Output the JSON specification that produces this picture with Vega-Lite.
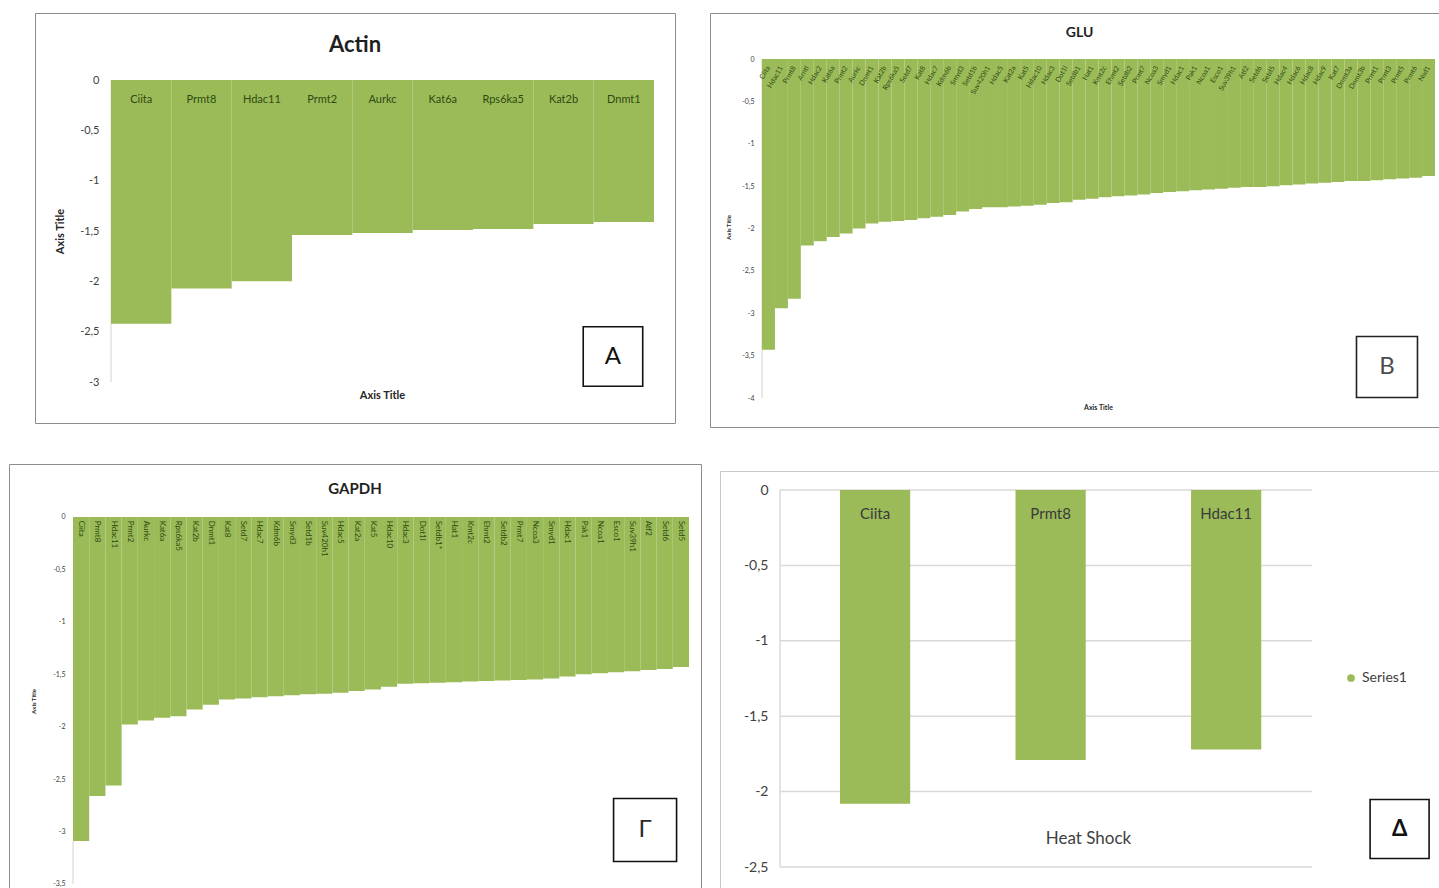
{
  "$schema": "https://vega.github.io/schema/vega-lite/v6.json",
  "background": "white",
  "padding": {"left": 8, "top": 12, "right": 0, "bottom": 0},
  "spacing": 7,
  "config": {"font": "Lato", "view": {"stroke": "#8c8c8c"}},
  "datasets": {
    "actin": [
      {"gene": "Ciita", "value": -2.42}, {"gene": "Prmt8", "value": -2.07}, {"gene": "Hdac11", "value": -2.0},
      {"gene": "Prmt2", "value": -1.54}, {"gene": "Aurkc", "value": -1.52}, {"gene": "Kat6a", "value": -1.49},
      {"gene": "Rps6ka5", "value": -1.48}, {"gene": "Kat2b", "value": -1.43}, {"gene": "Dnmt1", "value": -1.41}
    ],
    "glu": [
      {"gene": "Ciita", "value": -3.43}, {"gene": "Hdac11", "value": -2.94}, {"gene": "Prmt8", "value": -2.83},
      {"gene": "Arntl", "value": -2.2}, {"gene": "Hdac2", "value": -2.15}, {"gene": "Kat6a", "value": -2.1},
      {"gene": "Prmt2", "value": -2.06}, {"gene": "Aurkc", "value": -2.0}, {"gene": "Dnmt1", "value": -1.94},
      {"gene": "Kat2b", "value": -1.92}, {"gene": "Rps6ka5", "value": -1.91}, {"gene": "Setd7", "value": -1.9},
      {"gene": "Kat8", "value": -1.88}, {"gene": "Hdac7", "value": -1.86}, {"gene": "Kdm6b", "value": -1.84},
      {"gene": "Smyd3", "value": -1.8}, {"gene": "Setd1b", "value": -1.77}, {"gene": "Suv420h1", "value": -1.75},
      {"gene": "Hdac5", "value": -1.75}, {"gene": "Kat2a", "value": -1.74}, {"gene": "Kat5", "value": -1.73},
      {"gene": "Hdac10", "value": -1.72}, {"gene": "Hdac3", "value": -1.7}, {"gene": "Dot1l", "value": -1.69},
      {"gene": "Setdb1", "value": -1.66}, {"gene": "Hat1", "value": -1.65}, {"gene": "Kmt2c", "value": -1.63},
      {"gene": "Ehmt2", "value": -1.62}, {"gene": "Setdb2", "value": -1.61}, {"gene": "Prmt7", "value": -1.6},
      {"gene": "Ncoa3", "value": -1.58}, {"gene": "Smyd1", "value": -1.57}, {"gene": "Hdac1", "value": -1.56},
      {"gene": "Pak1", "value": -1.55}, {"gene": "Ncoa1", "value": -1.54}, {"gene": "Esco1", "value": -1.53},
      {"gene": "Suv39h1", "value": -1.52}, {"gene": "Atf2", "value": -1.51}, {"gene": "Setd6", "value": -1.51},
      {"gene": "Setd5", "value": -1.5}, {"gene": "Hdac4", "value": -1.49}, {"gene": "Hdac6", "value": -1.48},
      {"gene": "Hdac8", "value": -1.47}, {"gene": "Hdac9", "value": -1.46}, {"gene": "Kat7", "value": -1.45},
      {"gene": "Dnmt3a", "value": -1.44}, {"gene": "Dnmt3b", "value": -1.44}, {"gene": "Prmt1", "value": -1.43},
      {"gene": "Prmt3", "value": -1.42}, {"gene": "Prmt5", "value": -1.41}, {"gene": "Prmt6", "value": -1.4},
      {"gene": "Nsd1", "value": -1.38}
    ],
    "gapdh": [
      {"gene": "Ciita", "value": -3.09}, {"gene": "Prmt8", "value": -2.66}, {"gene": "Hdac11", "value": -2.56},
      {"gene": "Prmt2", "value": -1.98}, {"gene": "Aurkc", "value": -1.94}, {"gene": "Kat6a", "value": -1.915},
      {"gene": "Rps6ka5", "value": -1.9}, {"gene": "Kat2b", "value": -1.835}, {"gene": "Dnmt1", "value": -1.79},
      {"gene": "Kat8", "value": -1.74}, {"gene": "Setd7", "value": -1.73}, {"gene": "Hdac7", "value": -1.72},
      {"gene": "Kdm6b", "value": -1.71}, {"gene": "Smyd3", "value": -1.7}, {"gene": "Setd1b", "value": -1.69},
      {"gene": "Suv420h1", "value": -1.685}, {"gene": "Hdac5", "value": -1.675}, {"gene": "Kat2a", "value": -1.66},
      {"gene": "Kat5", "value": -1.645}, {"gene": "Hdac10", "value": -1.62}, {"gene": "Hdac3", "value": -1.59},
      {"gene": "Dot1l", "value": -1.585}, {"gene": "Setdb1*", "value": -1.58}, {"gene": "Hat1", "value": -1.575},
      {"gene": "Kmt2c", "value": -1.57}, {"gene": "Ehmt2", "value": -1.565}, {"gene": "Setdb2", "value": -1.56},
      {"gene": "Prmt7", "value": -1.555}, {"gene": "Ncoa3", "value": -1.55}, {"gene": "Smyd1", "value": -1.54},
      {"gene": "Hdac1", "value": -1.52}, {"gene": "Pak1", "value": -1.5}, {"gene": "Ncoa1", "value": -1.49},
      {"gene": "Esco1", "value": -1.48}, {"gene": "Suv39h1", "value": -1.47}, {"gene": "Atf2", "value": -1.46},
      {"gene": "Setd6", "value": -1.45}, {"gene": "Setd5", "value": -1.43}
    ],
    "heat": [
      {"gene": "Ciita", "value": -2.08}, {"gene": "Prmt8", "value": -1.79}, {"gene": "Hdac11", "value": -1.72}
    ],
    "heatTicks": [
      {"tick": 0}, {"tick": -0.5}, {"tick": -1}, {"tick": -1.5}, {"tick": -2}, {"tick": -2.5}
    ]
  },
  "hconcat": [
    {
      "spacing": 41,
      "center": true,
      "bounds": "flush",
      "vconcat": [
        {
          "width": 640,
          "height": 410,
          "view": {"stroke": "#8c8c8c", "strokeWidth": 1},
          "title": {"text": "Actin", "fontSize": 22, "fontWeight": "bold", "color": "#1f1f1f", "offset": -54, "baseline": "middle", "anchor": "middle", "frame": "group"},
          "data": {"name": "actin"},
          "layer": [
            {
              "transform": [{"filter": "datum.gene === 'Ciita'"}],
              "mark": {"type": "rule", "color": "#d4d4d4", "strokeWidth": 1},
              "encoding": {
                "x": {"field": "gene", "type": "nominal", "sort": null, "bandPosition": 0},
                "y": {"datum": -3, "type": "quantitative"},
                "y2": {"datum": 0}
              }
            },
            {
              "mark": {"type": "bar", "color": "#9bbb59"},
              "encoding": {
                "x": {"field": "gene", "type": "nominal", "sort": null,
                  "scale": {"paddingInner": 0, "paddingOuter": 0.804, "align": 0.7835},
                  "axis": {"orient": "bottom", "labels": false, "ticks": false, "domain": false, "offset": -36,
                    "title": "Axis Title", "titleFontSize": 11, "titleFontWeight": "bold", "titleColor": "#262626", "titlePadding": 2, "titleX": 347}},
                "y": {"field": "value", "type": "quantitative",
                  "scale": {"domain": [-3.407, 0.666], "nice": false, "zero": false},
                  "axis": {"orient": "left", "offset": -76, "values": [-3, -2.5, -2, -1.5, -1, -0.5, 0],
                    "labelExpr": "replace(toString(datum.value), '.', ',')",
                    "domain": false, "ticks": false, "grid": false, "labelPadding": 12, "labelFontSize": 11, "labelColor": "#404040",
                    "title": "Axis Title", "titleFontSize": 11, "titleFontWeight": "bold", "titleColor": "#262626", "titlePadding": 14, "titleY": 218}},
                "y2": {"datum": 0}
              }
            },
            {
              "mark": {"type": "text", "color": "#2f4a10", "fontSize": 11, "dy": 20, "baseline": "middle"},
              "encoding": {
                "x": {"field": "gene", "type": "nominal", "sort": null},
                "y": {"datum": 0, "type": "quantitative"},
                "text": {"field": "gene"}
              }
            },
            {
              "transform": [{"filter": "datum.gene === 'Dnmt1'"}],
              "mark": {"type": "point", "shape": "square", "size": 3540, "filled": true, "fill": "white", "stroke": "#111111", "strokeWidth": 1.6, "opacity": 1},
              "encoding": {
                "x": {"field": "gene", "type": "nominal", "sort": null, "bandPosition": 0.32},
                "y": {"datum": -2.747, "type": "quantitative"}
              }
            },
            {
              "transform": [{"filter": "datum.gene === 'Dnmt1'"}],
              "mark": {"type": "text", "text": "A", "fontSize": 24, "color": "#111111", "baseline": "middle"},
              "encoding": {
                "x": {"field": "gene", "type": "nominal", "sort": null, "bandPosition": 0.32},
                "y": {"datum": -2.747, "type": "quantitative"}
              }
            }
          ]
        },
        {
          "width": 692,
          "height": 430,
          "view": {"stroke": "#8c8c8c", "strokeWidth": 1},
          "title": {"text": "GAPDH", "fontSize": 15, "fontWeight": "bold", "color": "#1f1f1f", "offset": -40, "baseline": "middle", "anchor": "middle", "frame": "group"},
          "data": {"name": "gapdh"},
          "layer": [
            {
              "mark": {"type": "bar", "color": "#9bbb59"},
              "encoding": {
                "x": {"field": "gene", "type": "nominal", "sort": null,
                  "scale": {"paddingInner": 0, "paddingOuter": 0, "range": [64, 680]},
                  "axis": null},
                "y": {"field": "value", "type": "quantitative",
                  "scale": {"domain": [-3.5954, 0.5054], "nice": false, "zero": false},
                  "axis": {"orient": "left", "offset": -64, "values": [-3.5, -3, -2.5, -2, -1.5, -1, -0.5, 0],
                    "labelExpr": "replace(toString(datum.value), '.', ',')",
                    "domain": false, "ticks": false, "grid": false, "labelPadding": 8, "labelFontSize": 7, "labelColor": "#404040",
                    "title": "Axis Title", "titleFontSize": 6, "titleFontWeight": "bold", "titleColor": "#262626", "titlePadding": 16, "titleY": 237}},
                "y2": {"datum": 0}
              }
            },
            {
              "transform": [{"filter": "datum.gene === 'Ciita'"}],
              "mark": {"type": "rule", "color": "#d4d4d4", "strokeWidth": 1},
              "encoding": {
                "x": {"field": "gene", "type": "nominal", "sort": null, "bandPosition": 0},
                "y": {"datum": -3.5, "type": "quantitative"},
                "y2": {"datum": -3.09}
              }
            },
            {
              "mark": {"type": "text", "color": "#2f4a10", "fontSize": 8, "angle": 90, "align": "left", "baseline": "middle"},
              "encoding": {
                "x": {"field": "gene", "type": "nominal", "sort": null},
                "y": {"datum": -0.035, "type": "quantitative"},
                "text": {"field": "gene"}
              }
            },
            {
              "transform": [{"filter": "datum.gene === 'Atf2'"}],
              "mark": {"type": "point", "shape": "square", "size": 3970, "filled": true, "fill": "white", "stroke": "#111111", "strokeWidth": 1.6, "opacity": 1},
              "encoding": {
                "x": {"field": "gene", "type": "nominal", "sort": null, "bandPosition": 0.29},
                "y": {"datum": -2.985, "type": "quantitative"}
              }
            },
            {
              "transform": [{"filter": "datum.gene === 'Atf2'"}],
              "mark": {"type": "text", "text": "Γ", "fontSize": 24, "color": "#2b2b2b", "baseline": "middle"},
              "encoding": {
                "x": {"field": "gene", "type": "nominal", "sort": null, "bandPosition": 0.29},
                "y": {"datum": -2.985, "type": "quantitative"}
              }
            }
          ]
        }
      ]
    },
    {
      "spacing": 44,
      "center": true,
      "bounds": "flush",
      "vconcat": [
        {
          "width": 739,
          "height": 414,
          "view": {"stroke": "#8c8c8c", "strokeWidth": 1},
          "title": {"text": "GLU", "fontSize": 14, "fontWeight": "bold", "color": "#1f1f1f", "offset": -34, "baseline": "middle", "anchor": "middle", "frame": "group"},
          "data": {"name": "glu"},
          "layer": [
            {
              "transform": [{"filter": "datum.gene === 'Ciita'"}],
              "mark": {"type": "rule", "color": "#d4d4d4", "strokeWidth": 1},
              "encoding": {
                "x": {"field": "gene", "type": "nominal", "sort": null, "bandPosition": 0},
                "y": {"datum": -4, "type": "quantitative"},
                "y2": {"datum": 0}
              }
            },
            {
              "mark": {"type": "bar", "color": "#9bbb59"},
              "encoding": {
                "x": {"field": "gene", "type": "nominal", "sort": null,
                  "scale": {"paddingInner": 0, "paddingOuter": 0, "range": [52, 725]},
                  "axis": {"orient": "bottom", "labels": false, "ticks": false, "domain": false, "offset": -24,
                    "title": "Axis Title", "titleFontSize": 7, "titleFontWeight": "bold", "titleColor": "#262626", "titlePadding": 0, "titleX": 388}},
                "y": {"field": "value", "type": "quantitative",
                  "scale": {"domain": [-4.342, 0.5428], "nice": false, "zero": false},
                  "axis": {"orient": "left", "offset": -52, "values": [-4, -3.5, -3, -2.5, -2, -1.5, -1, -0.5, 0],
                    "labelExpr": "replace(toString(datum.value), '.', ',')",
                    "domain": false, "ticks": false, "grid": false, "labelPadding": 8, "labelFontSize": 7, "labelColor": "#404040",
                    "title": "Axis Title", "titleFontSize": 6, "titleFontWeight": "bold", "titleColor": "#262626", "titlePadding": 10, "titleY": 214}},
                "y2": {"datum": 0}
              }
            },
            {
              "mark": {"type": "text", "color": "#2f4a10", "fontSize": 7, "angle": -60, "align": "right", "baseline": "middle"},
              "encoding": {
                "x": {"field": "gene", "type": "nominal", "sort": null},
                "y": {"datum": -0.09, "type": "quantitative"},
                "text": {"field": "gene"}
              }
            },
            {
              "transform": [{"filter": "datum.gene === 'Prmt3'"}],
              "mark": {"type": "point", "shape": "square", "size": 3720, "filled": true, "fill": "white", "stroke": "#222222", "strokeWidth": 1.6, "opacity": 1},
              "encoding": {
                "x": {"field": "gene", "type": "nominal", "sort": null, "bandPosition": 0.29},
                "y": {"datum": -3.634, "type": "quantitative"}
              }
            },
            {
              "transform": [{"filter": "datum.gene === 'Prmt3'"}],
              "mark": {"type": "text", "text": "B", "fontSize": 24, "color": "#4d4d4d", "baseline": "middle"},
              "encoding": {
                "x": {"field": "gene", "type": "nominal", "sort": null, "bandPosition": 0.29},
                "y": {"datum": -3.634, "type": "quantitative"}
              }
            }
          ]
        },
        {
          "width": 719,
          "height": 420,
          "view": {"stroke": "#c9c9c9", "strokeWidth": 1},
          "resolve": {"scale": {"x": "independent"}, "axis": {"x": "independent"}},
          "layer": [
            {
              "data": {"name": "heatTicks"},
              "layer": [
                {
                  "mark": {"type": "rule", "color": "#d9d9d9", "strokeWidth": 1.5},
                  "encoding": {
                    "x": {"datum": 0, "type": "quantitative", "scale": {"domain": [-0.1128, 1.2387], "nice": false, "zero": false}, "axis": null},
                    "x2": {"datum": 1},
                    "y": {"field": "tick", "type": "quantitative"}
                  }
                },
                {
                  "mark": {"type": "rule", "color": "#d9d9d9", "strokeWidth": 1.5},
                  "encoding": {
                    "x": {"datum": 0, "type": "quantitative", "axis": null},
                    "y": {"aggregate": "min", "field": "tick", "type": "quantitative"},
                    "y2": {"aggregate": "max", "field": "tick"}
                  }
                }
              ]
            },
            {
              "data": {"name": "heat"},
              "layer": [
                {
                  "mark": {"type": "bar", "color": "#9bbb59"},
                  "encoding": {
                    "x": {"field": "gene", "type": "nominal", "sort": null,
                      "scale": {"paddingInner": 0.6, "paddingOuter": 0.848, "align": 0.403},
                      "axis": {"orient": "bottom", "labels": false, "ticks": false, "domain": false, "offset": -61,
                        "title": "Heat Shock", "titleFontSize": 17, "titleFontWeight": "normal", "titleColor": "#404040", "titlePadding": 0, "titleX": 368}},
                    "y": {"field": "value", "type": "quantitative",
                      "scale": {"domain": [-2.659, 0.126], "nice": false, "zero": false},
                      "axis": {"orient": "left", "offset": -60, "values": [-2.5, -2, -1.5, -1, -0.5, 0],
                        "labelExpr": "replace(toString(datum.value), '.', ',')",
                        "domain": false, "ticks": false, "grid": false, "labelPadding": 12, "labelFontSize": 14, "labelColor": "#404040", "title": null}},
                    "y2": {"datum": 0},
                    "color": {"datum": "Series1", "type": "nominal", "scale": {"range": ["#9bbb59"]},
                      "legend": {"orient": "none", "legendX": 1335, "legendY": 658, "title": null, "padding": 0, "symbolType": "circle", "symbolSize": 60, "labelFontSize": 14, "labelColor": "#404040"}}
                  }
                },
                {
                  "mark": {"type": "text", "color": "#3a3a3a", "fontSize": 15, "baseline": "middle"},
                  "encoding": {
                    "x": {"field": "gene", "type": "nominal", "sort": null},
                    "y": {"datum": -0.159, "type": "quantitative"},
                    "text": {"field": "gene"}
                  }
                },
                {
                  "transform": [{"filter": "datum.gene === 'Hdac11'"}],
                  "mark": {"type": "point", "shape": "square", "size": 3480, "filled": true, "fill": "white", "stroke": "#111111", "strokeWidth": 1.6, "opacity": 1},
                  "encoding": {
                    "x": {"field": "gene", "type": "nominal", "sort": null, "bandPosition": 2.97},
                    "y": {"datum": -2.248, "type": "quantitative"}
                  }
                },
                {
                  "transform": [{"filter": "datum.gene === 'Hdac11'"}],
                  "mark": {"type": "text", "text": "Δ", "fontSize": 22, "fontWeight": "bold", "color": "#111111", "baseline": "middle"},
                  "encoding": {
                    "x": {"field": "gene", "type": "nominal", "sort": null, "bandPosition": 2.97},
                    "y": {"datum": -2.248, "type": "quantitative"}
                  }
                }
              ]
            }
          ]
        }
      ]
    }
  ]
}
